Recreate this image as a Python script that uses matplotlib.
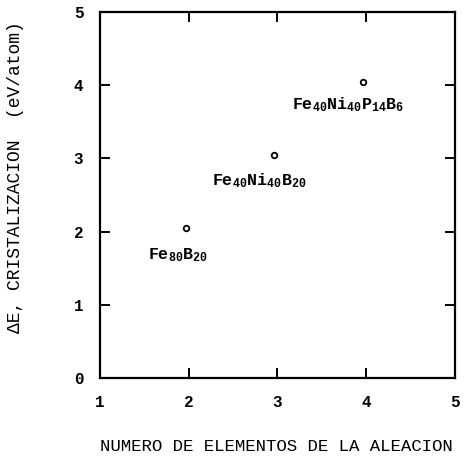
import matplotlib
matplotlib.use("Agg")
import matplotlib.pyplot as plt

plt.rcParams["font.family"] = ["Liberation Mono", "DejaVu Sans Mono"]
plt.rcParams["mathtext.fontset"] = "custom"
plt.rcParams["mathtext.rm"] = "Liberation Mono:bold"
plt.rcParams["mathtext.default"] = "rm"

# data
n_elements = [1.97, 2.96, 3.96]
delta_e = [2.05, 3.04, 4.04]
alloys = ["Fe$_{80}$B$_{20}$", "Fe$_{40}$Ni$_{40}$B$_{20}$",
          "Fe$_{40}$Ni$_{40}$P$_{14}$B$_{6}$"]
label_pos = [(1.54, 1.68), (2.26, 2.70), (3.16, 3.73)]

fig = plt.figure(figsize=(4.71, 4.57), dpi=100)
ax = fig.add_axes([0.2123, 0.1729, 0.7537, 0.8008])

ax.plot(n_elements, delta_e, "o", ms=4, mfc="white", mec="black", mew=1.3)
for name, (tx, ty) in zip(alloys, label_pos):
    ax.text(tx, ty, name, fontsize=12, fontweight="bold", va="center", ha="left")

ax.set_xlim(1, 5)
ax.set_ylim(0, 5)
ax.set_xticks([1, 2, 3, 4, 5])
ax.set_yticks([0, 1, 2, 3, 4, 5])
ax.tick_params(direction="in", top=True, right=True, length=7, width=1.4,
               labelsize=11.5, pad=12)
for lab in ax.get_xticklabels() + ax.get_yticklabels():
    lab.set_fontweight("bold")
for s in ax.spines.values():
    s.set_linewidth(1.6)

ax.set_xlabel("NUMERO DE ELEMENTOS DE LA ALEACION", fontsize=12.5)
ax.xaxis.set_label_coords(0.497, -0.166)
ax.set_ylabel("ΔE, CRISTALIZACION  (eV/atom)", fontsize=13)
ax.yaxis.set_label_coords(-0.215, 0.548)

fig.savefig("out.png", dpi=100)
